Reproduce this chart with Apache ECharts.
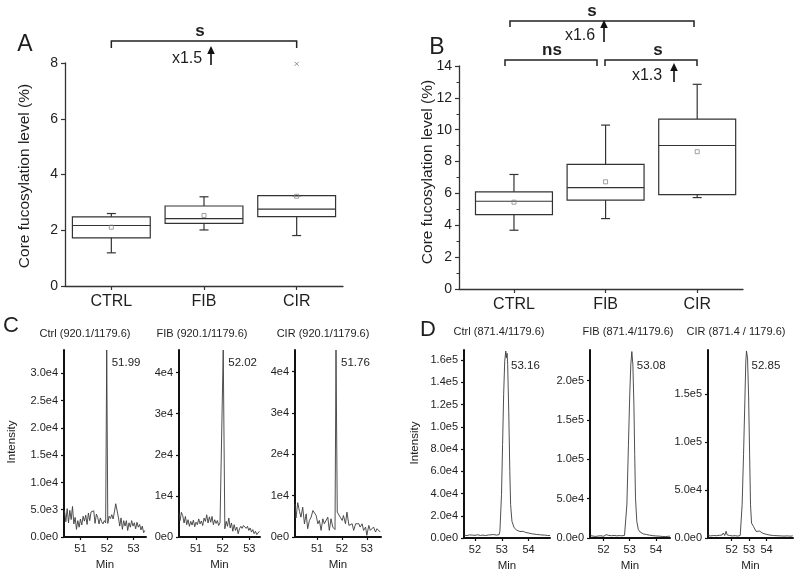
<!DOCTYPE html>
<html><head><meta charset="utf-8">
<script src="https://cdn.jsdelivr.net/npm/echarts@6/dist/echarts.min.js"></script>
<style>html,body{margin:0;padding:0;background:#fff}#main{width:800px;height:576px}</style>
</head><body><div id="main"></div>
<script>
// ---------- Box plot data (A, B) ----------
const groups = ['CTRL', 'FIB', 'CIR'];
const aMin  = [1.19, 2.01, 1.81];
const aQ1   = [1.73, 2.25, 2.49];
const aMed  = [2.17, 2.42, 2.76];
const aQ3   = [2.48, 2.87, 3.24];
const aMax  = [2.60, 3.20, 3.24];
const aMean = [2.11, 2.53, 3.22];
const aOutliers = [[3, 7.97]];
const bMin  = [3.69, 4.42, 5.74];
const bQ1   = [4.67, 5.58, 5.93];
const bMed  = [5.51, 6.37, 9.01];
const bQ3   = [6.10, 7.82, 10.67];
const bMax  = [7.19, 10.29, 12.85];
const bMean = [5.45, 6.73, 8.62];
const yTicksA = [0, 2, 4, 6, 8];
const yTicksB = [0, 2, 4, 6, 8, 10, 12, 14];

// ---------- Chromatogram data (C, D): [min, intensity] ----------
const c1 = [[50.40,4800],[50.45,2800],[50.50,5200],[50.55,2600],[50.60,4900],[50.65,3200],[50.70,5600],[50.75,2400],[50.80,3600],[50.85,1400],[50.90,3000],[50.95,1800],[51.00,3300],[51.05,2200],[51.10,3800],[51.15,2900],[51.20,4000],[51.25,2300],[51.30,4400],[51.35,3000],[51.40,4600],[51.45,4300],[51.50,4800],[51.55,2500],[51.60,4200],[51.65,3600],[51.70,2400],[51.75,3500],[51.80,2800],[51.85,2400],[51.90,3000],[51.95,2600],[51.99,34300],[52.03,2500],[52.08,3800],[52.13,3400],[52.18,4100],[52.23,3300],[52.28,4600],[52.33,6100],[52.38,5900],[52.43,3600],[52.48,2000],[52.53,3500],[52.58,1400],[52.63,3000],[52.68,2000],[52.73,3000],[52.78,1200],[52.83,2600],[52.88,1800],[52.93,3000],[52.98,2000],[53.03,2600],[53.08,1500],[53.13,2700],[53.18,1800],[53.23,2300],[53.28,1300],[53.33,2000],[53.38,800],[53.43,1200]];
const c2 = [[50.36,5800],[50.40,4000],[50.45,6000],[50.50,5200],[50.55,3400],[50.60,5000],[50.65,3000],[50.70,4200],[50.75,2600],[50.80,3800],[50.85,2900],[50.90,4100],[50.95,2500],[51.00,3600],[51.05,3000],[51.10,4400],[51.15,3200],[51.20,3900],[51.25,2800],[51.30,4600],[51.35,3800],[51.40,5400],[51.45,3400],[51.50,4900],[51.55,3600],[51.60,5000],[51.65,3000],[51.70,4200],[51.75,3300],[51.80,4000],[51.85,2800],[51.90,3500],[51.96,3800],[52.02,45500],[52.08,2000],[52.13,3800],[52.18,2600],[52.23,4600],[52.28,2200],[52.33,3400],[52.38,1400],[52.43,3000],[52.48,1600],[52.53,2400],[52.58,800],[52.63,2000],[52.68,2600],[52.73,2100],[52.78,2800],[52.83,2500],[52.88,2100],[52.93,2600],[52.98,1600],[53.03,2200],[53.08,1200],[53.13,1800],[53.18,800],[53.23,1400],[53.28,600],[53.33,1000],[53.38,1400]];
const c3 = [[50.11,8000],[50.15,4600],[50.22,8300],[50.29,6200],[50.35,4800],[50.42,7200],[50.49,3200],[50.56,5600],[50.62,2000],[50.69,4000],[50.76,4800],[50.83,6400],[50.89,6800],[50.96,5200],[51.03,3200],[51.09,4000],[51.16,1600],[51.23,4400],[51.29,3200],[51.36,2800],[51.43,4800],[51.49,1600],[51.56,4400],[51.63,2400],[51.72,1800],[51.76,45200],[51.81,6000],[51.87,5600],[51.93,4800],[52.01,4000],[52.06,5200],[52.14,3200],[52.20,6000],[52.28,2800],[52.33,2400],[52.41,3200],[52.47,1600],[52.55,3200],[52.60,2800],[52.68,3200],[52.73,2400],[52.81,3200],[52.87,1600],[52.95,2400],[53.00,400],[53.08,2800],[53.14,1600],[53.22,2000],[53.27,2400],[53.35,1200],[53.41,2000],[53.49,2400],[53.54,1200]];
const d1 = [[51.60,2500],[51.65,3000],[51.70,2200],[51.75,3200],[51.80,2800],[51.85,3600],[51.90,2600],[51.95,3000],[52.00,2400],[52.05,3400],[52.10,2900],[52.15,3100],[52.20,2300],[52.25,3300],[52.30,2600],[52.35,2900],[52.40,2200],[52.45,3000],[52.50,2700],[52.55,2100],[52.60,2900],[52.65,2400],[52.70,3100],[52.75,2300],[52.80,2600],[52.85,2200],[52.90,3000],[52.93,6000],[52.99,39000],[53.03,84000],[53.07,129000],[53.11,159000],[53.15,168000],[53.17,162000],[53.20,166000],[53.22,156000],[53.26,114000],[53.30,60000],[53.33,30000],[53.38,15000],[53.46,9300],[53.55,7200],[53.62,6500],[53.68,5800],[53.75,5200],[53.80,6000],[53.85,4400],[53.90,4900],[53.95,3800],[54.00,4500],[54.05,3400],[54.10,3900],[54.15,2800],[54.20,3500],[54.25,2600],[54.30,3200],[54.35,2400],[54.40,3000],[54.45,2200],[54.50,2700],[54.55,2000],[54.60,2600],[54.65,1800],[54.70,2300],[54.75,1900],[54.80,2200]];
const d2 = [[51.50,3000],[51.55,5200],[51.60,2400],[51.65,3600],[51.70,2000],[51.75,3200],[51.80,2600],[51.85,4000],[51.90,2800],[51.95,3500],[52.00,2200],[52.05,3000],[52.10,4200],[52.15,2500],[52.20,3300],[52.25,5600],[52.30,2900],[52.35,2400],[52.40,3200],[52.45,2000],[52.50,2800],[52.55,2300],[52.60,3100],[52.65,2400],[52.70,2800],[52.75,2200],[52.80,3300],[52.89,42000],[52.95,118000],[53.00,182000],[53.04,220000],[53.08,237000],[53.12,220000],[53.16,169000],[53.19,106000],[53.22,51000],[53.27,21000],[53.33,10600],[53.40,7500],[53.46,6300],[53.52,5200],[53.58,5800],[53.64,4400],[53.70,4800],[53.76,3600],[53.82,4200],[53.88,3000],[53.94,3800],[54.00,2600],[54.06,3400],[54.12,2400],[54.18,3000],[54.24,2000],[54.30,2800],[54.36,1800],[54.42,2600],[54.48,2200],[54.54,2400]];
const d3 = [[50.64,2500],[50.72,3400],[50.80,2200],[50.88,3000],[50.96,2600],[51.04,3800],[51.12,2400],[51.20,3200],[51.28,2800],[51.36,4200],[51.44,3000],[51.52,5200],[51.60,2600],[51.68,7000],[51.74,3200],[51.80,4400],[51.88,2600],[51.96,3400],[52.04,2200],[52.12,3000],[52.20,2400],[52.28,2800],[52.36,2000],[52.44,2600],[52.49,2700],[52.60,34700],[52.68,86800],[52.76,145800],[52.81,184000],[52.85,195000],[52.91,187500],[52.97,149000],[53.03,86800],[53.08,34700],[53.14,15600],[53.25,12000],[53.40,6900],[53.50,5600],[53.60,7200],[53.70,6400],[53.80,4800],[53.90,5400],[54.00,3800],[54.10,4400],[54.20,3000],[54.30,3600],[54.40,2600],[54.50,3200],[54.60,2400],[54.70,3000],[54.80,2200],[54.90,2800],[55.00,2000],[55.10,2600],[55.20,2200],[55.30,2500],[55.40,1900],[55.50,2300]];
const chromData   = [c1, c2, c3, d1, d2, d3];
const chromTitles = ['Ctrl (920.1/1179.6)', 'FIB (920.1/1179.6)', 'CIR (920.1/1179.6)', 'Ctrl (871.4/1179.6)', 'FIB (871.4/1179.6)', 'CIR (871.4 / 1179.6)'];
const peakLabels  = [51.99, 52.02, 51.76, 53.16, 53.08, 52.85];
const chromXMin   = [50.38, 50.36, 50.11, 51.59, 51.48, 50.64];
const chromXMax   = [53.47, 53.40, 53.57, 54.80, 54.54, 55.52];
const chromYMax   = [34300, 45500, 45200, 169000, 239000, 196000];
const xTicksC = [51, 52, 53];
const xTicksD = [52, 53, 54];
const yTicksC1 = [0, 5000, 10000, 15000, 20000, 25000, 30000];
const yTicksC23 = [0, 10000, 20000, 30000, 40000];
const yTicksD1 = [0, 20000, 40000, 60000, 80000, 100000, 120000, 140000, 160000];
const yTicksD2 = [0, 50000, 100000, 150000, 200000];
const yTicksD3 = [0, 50000, 100000, 150000];

// ---------- Layout ----------
const FONT = "'Liberation Sans', Arial, Helvetica, sans-serif";
const INK = '#1e1e1e';
const grids = [
  {left: 65, top: 63, width: 278, height: 223},
  {left: 459, top: 66, width: 284, height: 223},
  {left: 64, top: 350, width: 82, height: 187},
  {left: 179, top: 350, width: 81, height: 187},
  {left: 295, top: 350, width: 86, height: 187},
  {left: 464, top: 350, width: 86, height: 188},
  {left: 590, top: 350, width: 80, height: 188},
  {left: 708, top: 350, width: 85, height: 188}
];
const chromXTicks = [xTicksC, xTicksC, xTicksC, xTicksD, xTicksD, xTicksD];
const chromYTicks = [yTicksC1, yTicksC23, yTicksC23, yTicksD1, yTicksD2, yTicksD3];
const chromDigits = [1, 0, 0, 1, 1, 1];
const BOX_W = 0.84;

function expFmt(d) { return v => Number(v).toExponential(d).replace('+', ''); }

function boxRender(params, api) {
  const x = api.value(0);
  const lo = api.coord([x, api.value(1)]);
  const q1 = api.coord([x, api.value(2)]);
  const md = api.coord([x, api.value(3)]);
  const q3 = api.coord([x, api.value(4)]);
  const hi = api.coord([x, api.value(5)]);
  const mn = api.coord([x, api.value(6)]);
  const hw = api.size([BOX_W, 0])[0] / 2;
  const cx = lo[0];
  const cap = 4.5;
  const ls = {stroke: '#333', lineWidth: 1.2, fill: 'none'};
  return {type: 'group', children: [
    {type: 'rect', shape: {x: cx - hw, y: q3[1], width: 2 * hw, height: q1[1] - q3[1]}, style: {stroke: '#333', fill: 'none', lineWidth: 1.2}},
    {type: 'line', shape: {x1: cx - hw, y1: md[1], x2: cx + hw, y2: md[1]}, style: ls},
    {type: 'line', shape: {x1: cx, y1: q3[1], x2: cx, y2: hi[1]}, style: ls},
    {type: 'line', shape: {x1: cx, y1: q1[1], x2: cx, y2: lo[1]}, style: ls},
    {type: 'line', shape: {x1: cx - cap, y1: hi[1], x2: cx + cap, y2: hi[1]}, style: ls},
    {type: 'line', shape: {x1: cx - cap, y1: lo[1], x2: cx + cap, y2: lo[1]}, style: ls},
    {type: 'rect', shape: {x: mn[0] - 2, y: mn[1] - 2, width: 4, height: 4}, style: {stroke: '#888', fill: 'none', lineWidth: 0.8}}
  ]};
}

const xAxes = [], yAxes = [], series = [];
// Box panels
[[0.5, 3.5, 8, yTicksA, false], [0.4, 3.5, 14, yTicksB, true]].forEach((cfg, i) => {
  xAxes.push({type: 'value', gridIndex: i, min: cfg[0], max: cfg[1],
    axisLine: {show: true, onZero: false, lineStyle: {color: '#333', width: 1.3}},
    axisTick: {show: true, length: 4, customValues: [1, 2, 3], lineStyle: {color: '#333', width: 1.2}},
    axisLabel: {customValues: [1, 2, 3], formatter: v => groups[Math.round(v) - 1], fontSize: 16, color: INK, fontFamily: FONT, margin: 8},
    splitLine: {show: false}});
  yAxes.push({type: 'value', gridIndex: i, min: 0, max: cfg[2],
    axisLine: {show: true, lineStyle: {color: '#333', width: 1.3}},
    axisTick: {show: true, length: 4, customValues: cfg[3], lineStyle: {color: '#333', width: 1.2}},
    minorTick: {show: cfg[4], splitNumber: 2, length: 2.5, lineStyle: {color: '#333', width: 1}},
    axisLabel: {customValues: cfg[3], fontSize: 14, color: INK, fontFamily: FONT, margin: 7},
    interval: 2,
    splitLine: {show: false}});
});
const boxSets = [[aMin, aQ1, aMed, aQ3, aMax, aMean], [bMin, bQ1, bMed, bQ3, bMax, bMean]];
boxSets.forEach((s, i) => {
  series.push({type: 'custom', xAxisIndex: i, yAxisIndex: i, renderItem: boxRender,
    encode: {x: 0, y: [1, 2, 3, 4, 5, 6]},
    data: groups.map((g, k) => [k + 1, s[0][k], s[1][k], s[2][k], s[3][k], s[4][k], s[5][k]])});
});
series.push({type: 'scatter', xAxisIndex: 0, yAxisIndex: 0, data: aOutliers,
  symbol: 'path://M0,0L10,10M10,0L0,10', symbolSize: 4,
  itemStyle: {color: 'rgba(0,0,0,0)', borderColor: '#777', borderWidth: 1}});

// Chromatograms
chromData.forEach((d, k) => {
  const gi = k + 2;
  xAxes.push({type: 'value', gridIndex: gi, min: chromXMin[k], max: chromXMax[k],
    name: 'Min', nameLocation: 'middle', nameGap: 22,
    nameTextStyle: {fontSize: 11.5, color: INK, fontFamily: FONT},
    axisLine: {show: true, onZero: false, lineStyle: {color: '#111', width: 2}},
    axisTick: {show: true, length: 3, customValues: chromXTicks[k], lineStyle: {color: '#111', width: 1.2}},
    axisLabel: {customValues: chromXTicks[k], fontSize: 11, color: INK, fontFamily: FONT, margin: 6},
    splitLine: {show: false}});
  yAxes.push({type: 'value', gridIndex: gi, min: 0, max: chromYMax[k],
    axisLine: {show: true, lineStyle: {color: '#111', width: 2}},
    axisTick: {show: true, length: 3, customValues: chromYTicks[k], lineStyle: {color: '#111', width: 1.2}},
    axisLabel: {customValues: chromYTicks[k], formatter: expFmt(chromDigits[k]), fontSize: 11, color: INK, fontFamily: FONT, margin: 6},
    splitLine: {show: false}});
  series.push({type: 'line', xAxisIndex: gi, yAxisIndex: gi, data: d, symbol: 'none', showSymbol: false,
    lineStyle: {color: '#3c3c3c', width: 0.9}, clip: true});
});

const chart = echarts.init(document.getElementById('main'));
chart.setOption({
  backgroundColor: '#fff', animation: false,
  textStyle: {fontFamily: FONT},
  grid: grids.map(g => Object.assign({containLabel: false}, g)),
  xAxis: xAxes, yAxis: yAxes, series: series
});

// ---------- Annotations ----------
function T(x, y, s, size, opt) {
  opt = opt || {};
  return {type: 'text', x: x, y: y, rotation: opt.rot || 0, silent: true,
    style: {text: s, fontSize: size, fontFamily: FONT, fontWeight: opt.bold ? 'bold' : 'normal', fill: INK,
      align: opt.align || 'center', verticalAlign: 'middle', textAlign: opt.align || 'center', textVerticalAlign: 'middle'}};
}
function bracket(x1, x2, y, drop) {
  return {type: 'polyline', silent: true, shape: {points: [[x1, y + drop], [x1, y], [x2, y], [x2, y + drop]]},
    style: {stroke: '#222', lineWidth: 1.5, fill: 'none'}};
}
function arrow(x, tip, bottom) {
  return [
    {type: 'line', silent: true, shape: {x1: x, y1: tip + 6, x2: x, y2: bottom}, style: {stroke: '#111', lineWidth: 1.6}},
    {type: 'polygon', silent: true, shape: {points: [[x, tip], [x - 3.8, tip + 8], [x + 3.8, tip + 8]]}, style: {fill: '#111'}}
  ];
}
const g = [];
g.push(T(25, 45, 'A', 23), T(437, 48, 'B', 23), T(11, 326, 'C', 22), T(428, 330, 'D', 22));
g.push(T(25, 176, 'Core fucosylation level (%)', 15.5, {rot: Math.PI / 2}));
g.push(T(428, 172, 'Core fucosylation level (%)', 15.5, {rot: Math.PI / 2}));
g.push(T(12, 442, 'Intensity', 11.5, {rot: Math.PI / 2}), T(415, 443, 'Intensity', 11.5, {rot: Math.PI / 2}));
// Panel A significance
const aL = chart.convertToPixel({gridIndex: 0}, [1, 0])[0];
const aR = chart.convertToPixel({gridIndex: 0}, [3, 0])[0];
g.push(bracket(aL, aR, 41, 7), T(200, 31, 's', 17, {bold: true}), T(187, 59, 'x1.5', 16));
g.push(...arrow(211, 46, 65));
// Panel B significance
g.push(bracket(510, 694, 21, 6), T(592, 11, 's', 17, {bold: true}), T(580, 36, 'x1.6', 16));
g.push(...arrow(604, 20, 42));
g.push(bracket(505, 597, 60, 6), T(552, 50, 'ns', 17, {bold: true}));
g.push(bracket(605, 697, 60, 6), T(658, 50, 's', 17, {bold: true}), T(647, 76, 'x1.3', 16));
g.push(...arrow(674, 63, 82));
// Chromatogram titles & peak labels
chromTitles.forEach((s, k) => {
  const gr = grids[k + 2];
  const p = chart.convertToPixel({gridIndex: k + 2}, [peakLabels[k], chromYMax[k]]);
  const cxTitle = [85, 202, 323, 499, 628, 736][k];
  g.push(T(cxTitle, k < 3 ? 334 : 332, s, 11));
  g.push(T(p[0] + 5, p[1] + (k < 3 ? 13 : 16), peakLabels[k].toFixed(2), 11.5, {align: 'left'}));
});
chart.setOption({graphic: g});
</script>
</body></html>
